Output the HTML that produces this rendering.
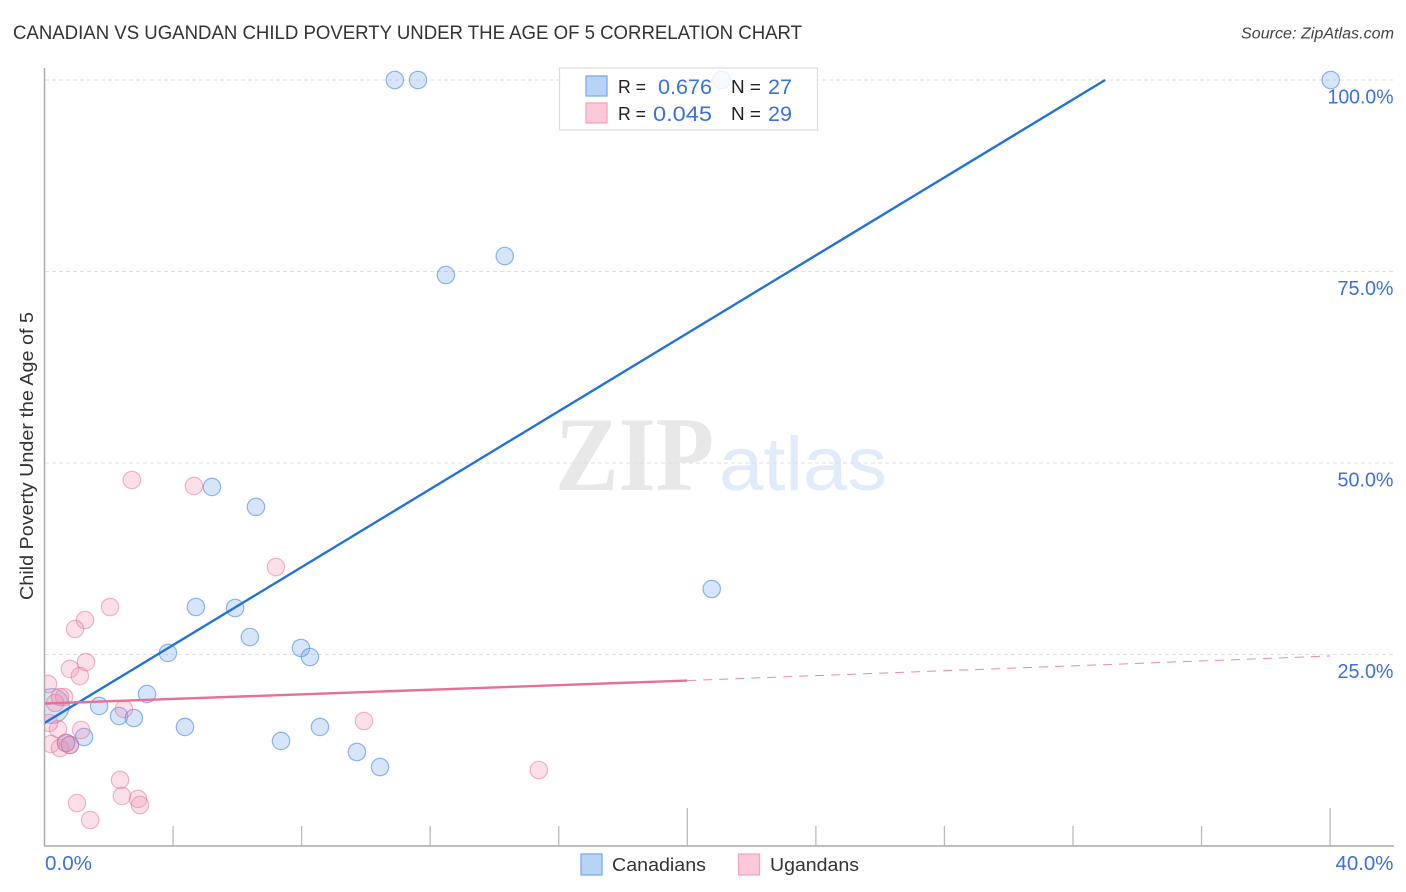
<!DOCTYPE html>
<html>
<head>
<meta charset="utf-8">
<title>Canadian vs Ugandan Child Poverty Correlation Chart</title>
<style>
html,body{margin:0;padding:0;background:#fff;}
svg{display:block;font-family:"Liberation Sans",sans-serif;}
</style>
</head>
<body>
<svg id="chart" width="1406" height="892" viewBox="0 0 1406 892" xmlns="http://www.w3.org/2000/svg">
  <defs><clipPath id="plot-clip"><rect x="45" y="60" width="1349" height="786"/></clipPath></defs>
  <rect width="1406" height="892" fill="#fff"/>
  <text x="13" y="39" font-size="19.5" fill="#333" textLength="789" lengthAdjust="spacingAndGlyphs">CANADIAN VS UGANDAN CHILD POVERTY UNDER THE AGE OF 5 CORRELATION CHART</text>
  <text x="1241" y="38.5" font-size="15.5" font-style="italic" fill="#444" textLength="153" lengthAdjust="spacingAndGlyphs">Source: ZipAtlas.com</text>
  <text x="555" y="490" font-family="'Liberation Serif',serif" font-weight="bold" font-size="106" fill="#e8e8e8" textLength="159" lengthAdjust="spacingAndGlyphs">ZIP</text>
  <text x="719" y="490" font-size="76" fill="#e2ebf9" textLength="168" lengthAdjust="spacingAndGlyphs">atlas</text>
  <g id="grid"></g>
  <line x1="44.5" y1="68" x2="44.5" y2="846" stroke="#aaa" stroke-width="1.5"/>
  <line x1="44" y1="846" x2="1394" y2="846" stroke="#aaa" stroke-width="1.5"/>
  <g id="ticks"></g>
  <g id="marks" clip-path="url(#plot-clip)"></g>
  <g id="fits" clip-path="url(#plot-clip)"></g>
  <g id="labels"></g>
  <text transform="translate(33,600) rotate(-90)" x="0" y="0" font-size="18.5" fill="#333" textLength="288" lengthAdjust="spacingAndGlyphs">Child Poverty Under the Age of 5</text>

  <g>
    <rect x="559.5" y="68" width="258" height="62" fill="#fff" fill-opacity="0.82" stroke="#ddd" stroke-width="1.2"/>
    <rect x="586" y="76" width="21" height="20" fill="#b7d3f6" stroke="#7eaae6" stroke-width="1.3"/>
    <rect x="586" y="103" width="21" height="20" fill="#fdc8d9" stroke="#f3a6c0" stroke-width="1.3"/>
    <text x="618" y="93" font-size="18" fill="#222" textLength="28" lengthAdjust="spacingAndGlyphs">R =</text>
    <text x="658" y="94" font-size="21" fill="#3b72d6" textLength="54" lengthAdjust="spacingAndGlyphs">0.676</text>
    <text x="731" y="93" font-size="18" fill="#222" textLength="30" lengthAdjust="spacingAndGlyphs">N =</text>
    <text x="768" y="94" font-size="21" fill="#3b72d6" textLength="24" lengthAdjust="spacingAndGlyphs">27</text>
    <text x="618" y="120" font-size="18" fill="#222" textLength="28" lengthAdjust="spacingAndGlyphs">R =</text>
    <text x="653" y="121" font-size="21" fill="#3b72d6" textLength="59" lengthAdjust="spacingAndGlyphs">0.045</text>
    <text x="731" y="120" font-size="18" fill="#222" textLength="30" lengthAdjust="spacingAndGlyphs">N =</text>
    <text x="768" y="121" font-size="21" fill="#3b72d6" textLength="24" lengthAdjust="spacingAndGlyphs">29</text>
  </g>

  <g>
    <rect x="581" y="854" width="21" height="21" fill="#b7d3f6" stroke="#7eaae6" stroke-width="1.3"/>
    <text x="612" y="871" font-size="18.5" fill="#333" textLength="94" lengthAdjust="spacingAndGlyphs">Canadians</text>
    <rect x="738.500" y="854" width="21" height="21" fill="#fdc8d9" stroke="#f3a6c0" stroke-width="1.3"/>
    <text x="770" y="871" font-size="18.5" fill="#333" textLength="89" lengthAdjust="spacingAndGlyphs">Ugandans</text>
  </g>
</svg>
<script>
const canadianX = [10.90,11.62,21.07,40.02,12.49,14.32,5.21,6.58,20.76,4.71,5.93,6.39,3.84,7.98,8.26,3.19,1.70,2.32,2.78,4.37,8.57,7.36,9.72,10.44,1.23,0.79,0.67,0.23];
const canadianY = [100,100,100,100,74.54,77.02,46.87,44.26,33.55,31.20,31.07,27.28,25.20,25.85,24.67,19.84,18.28,16.97,16.71,15.54,15.54,13.71,12.27,10.31,14.23,13.19,13.45,18.28];
const canadianWeight = [1,1,1,1,1,1,1,1,1,1,1,1,1,1,1,1,1,1,1,1,1,1,1,1,1,1,1,2];
const ugandanX = [2.72,4.65,7.20,2.04,1.26,0.95,1.29,0.79,1.10,0.11,0.61,0.48,0.33,9.94,2.47,1.14,0.42,0.14,0.20,0.48,0.79,0.67,2.35,2.41,2.91,2.97,1.01,1.42,15.38];
const ugandanY = [47.78,47.00,36.42,31.20,29.50,28.33,24.02,23.11,22.19,21.15,19.45,19.45,18.67,16.32,17.89,15.14,15.27,16.06,13.32,12.79,13.19,13.45,8.62,6.53,6.14,5.35,5.61,3.39,9.92];
const canadianFitX = [0,33];
const canadianFitY = [16.06,100];
const ugandanFitSolidX = [0,20];
const ugandanFitSolidY = [18.6,21.6];
const ugandanFitDashX = [20,40];
const ugandanFitDashY = [21.6,24.8];
const yGridValues = [25,50,75,100];
const yTickLabels = ['25.0%','50.0%','75.0%','100.0%'];
const xTickValues = [4,8,12,16,20,24,28,32,36,40];
const xMajorTicks = [20,40];
const xEndValues = [0,40];
const xEndLabels = ['0.0%','40.0%'];

const NS = 'http://www.w3.org/2000/svg';
const xScale = v => 44.5 + v * 32.14;
const yScale = v => 846 - v * 7.66;
function make(tag, attrs, parent) {
  const el = document.createElementNS(NS, tag);
  for (const k in attrs) el.setAttribute(k, attrs[k]);
  parent.appendChild(el);
  return el;
}
const grid = document.getElementById('grid');
const ticks = document.getElementById('ticks');
const marks = document.getElementById('marks');
const fits = document.getElementById('fits');
const labels = document.getElementById('labels');

yGridValues.forEach((v, i) => {
  const line = make('line', {x1: 45, x2: 1394, y1: yScale(v), y2: yScale(v), stroke: '#dfdfdf', 'stroke-width': 1, 'stroke-dasharray': '4 3'}, grid);
  
  
  const t = make('text', {x: 1393.500, y: yScale(v) + 23.5, 'font-size': 20, fill: '#3b72d6', 'text-anchor': 'end', textLength: yTickLabels[i].length > 5 ? 66 : 56, lengthAdjust: 'spacingAndGlyphs'}, labels);
  
  
  t.textContent = yTickLabels[i];
});
xTickValues.forEach(v => {
  const top = xMajorTicks.includes(v) ? 808 : 826;
  const tick = make('line', {x1: xScale(v), x2: xScale(v), y1: top, y2: 846, stroke: '#bbb', 'stroke-width': 1.3}, ticks);
  
  
});
xEndValues.forEach((v, i) => {
  const t = make('text', {x: i === 0 ? 45 : 1393.500, y: 870, 'font-size': 20, fill: '#3b72d6', 'text-anchor': i === 0 ? 'start' : 'end', textLength: i === 0 ? 47 : 58, lengthAdjust: 'spacingAndGlyphs'}, labels);
  
  
  t.textContent = xEndLabels[i];
});
canadianX.forEach((v, i) => {
  const c = make('circle', {cx: xScale(v), cy: yScale(canadianY[i]), r: 8.7 * canadianWeight[i], fill: 'rgba(120,170,238,0.3)', stroke: 'rgba(60,125,215,0.55)', 'stroke-width': 1.2}, marks);
  
  
});
ugandanX.forEach((v, i) => {
  const c = make('circle', {cx: xScale(v), cy: yScale(ugandanY[i]), r: 8.7, fill: 'rgba(245,140,175,0.27)', stroke: 'rgba(230,110,150,0.5)', 'stroke-width': 1.2}, marks);
  
  
});
const blueFit = make('line', {x1: xScale(canadianFitX[0]), y1: yScale(canadianFitY[0]), x2: xScale(canadianFitX[1]), y2: yScale(canadianFitY[1]), stroke: '#2272d8', 'stroke-width': 2.4}, fits);


const pinkFit = make('line', {x1: xScale(ugandanFitSolidX[0]), y1: yScale(ugandanFitSolidY[0]), x2: xScale(ugandanFitSolidX[1]), y2: yScale(ugandanFitSolidY[1]), stroke: '#e86f9a', 'stroke-width': 2.4}, fits);


const pinkDash = make('line', {x1: xScale(ugandanFitDashX[0]), y1: yScale(ugandanFitDashY[0]), x2: xScale(ugandanFitDashX[1]), y2: yScale(ugandanFitDashY[1]), stroke: '#e98bab', 'stroke-width': 1, 'stroke-dasharray': '9 7'}, fits);


</script>
</body>
</html>
